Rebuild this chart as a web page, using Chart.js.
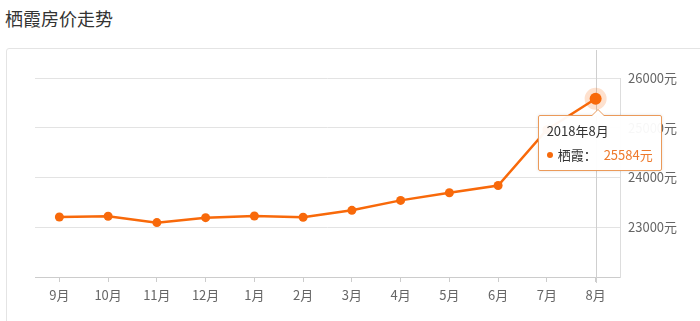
<!DOCTYPE html>
<html>
<head>
<meta charset="utf-8">
<script src="https://cdn.jsdelivr.net/npm/chart.js@4"></script>
<style>
  html, body { margin: 0; padding: 0; background: #fff; }
  body { width: 700px; height: 321px; position: relative; overflow: hidden;
         font-family: 'Noto Sans CJK SC', 'Noto Sans', sans-serif; }
  .page-title { position: absolute; left: 5px; top: 5px; font-size: 18px; color: #333; }
  .card { position: absolute; left: 6px; top: 48px; width: 740px; height: 320px;
          border: 1px solid #e4e4e4; border-radius: 3px; }
  #wrap { position: absolute; left: 0; top: 0; width: 700px; height: 321px; }
  #tip { position: absolute; display: none; background: rgba(255,255,255,0.95);
         border: 1px solid #eb9a5a; border-radius: 2px; padding: 5px 8px 5px 8px;
         font-size: 13px; color: #333; white-space: nowrap; box-shadow: 0 0 3px rgba(0,0,0,0.12); }
  #tip:before { content: ''; position: absolute; left: 52px; top: -7px;
                border: 7px solid transparent; border-top: 0; border-bottom-color: #eb9a5a; }
  #tip:after { content: ''; position: absolute; left: 53px; top: -6px;
               border: 6px solid transparent; border-top: 0; border-bottom-color: #fff; }
  #tip .t-title { line-height: 20px; }
  #tip .t-row { line-height: 20px; margin-top: 4px; }
  #tip .dot { display: inline-block; width: 6px; height: 6px; border-radius: 50%;
              background: #f66a0c; margin-right: 5px; vertical-align: 2px; }
  #tip .val { color: #ee7a2c; margin-left: 7px; }
</style>
</head>
<body>
<div class="page-title">栖霞房价走势</div>
<div class="card"></div>
<div id="wrap"><canvas id="chart"></canvas></div>
<div id="tip"></div>
<script>
// 栖霞房价走势 — monthly average price (元/㎡)

const MONTHS = ['9月', '10月', '11月', '12月', '1月', '2月', '3月', '4月', '5月', '6月', '7月', '8月'];
const TIP_TITLES = ['2017年9月', '2017年10月', '2017年11月', '2017年12月', '2018年1月', '2018年2月',
                    '2018年3月', '2018年4月', '2018年5月', '2018年6月', '2018年7月', '2018年8月'];
const PRICES = [23206, 23220, 23093, 23193, 23227, 23200, 23340, 23540, 23693, 23840, 24960, 25584];
const SERIES_NAME = '栖霞';
const Y_MIN = 22000;
const Y_MAX = 26000;
const Y_STEP = 1000;
const ACTIVE_INDEX = 11;

const ORANGE = '#f8690a';

// vertical pointer line at the hovered month
const crosshair = {
  id: 'crosshair',
  beforeDatasetsDraw(chart) {
    const act = chart.tooltip.getActiveElements();
    if (!act.length) return;
    const x = chart.scales.x.getPixelForValue(act[0].index);
    const { ctx, chartArea } = chart;
    ctx.save();
    ctx.strokeStyle = '#cfcfcf';
    ctx.lineWidth = 1;
    ctx.beginPath();
    ctx.moveTo(Math.round(x) + 0.5, chartArea.top - 28);
    ctx.lineTo(Math.round(x) + 0.5, chartArea.bottom + 6);
    ctx.stroke();
    ctx.restore();
  },
};

function externalTip(context) {
  const el = document.getElementById('tip');
  const tt = context.tooltip;
  if (tt.opacity === 0 || !tt.dataPoints || !tt.dataPoints.length) {
    el.style.display = 'none';
    return;
  }
  const dp = tt.dataPoints[0];
  el.innerHTML =
    `<div class="t-title">${TIP_TITLES[dp.dataIndex]}</div>` +
    `<div class="t-row"><span class="dot"></span>${SERIES_NAME}：<span class="val">${dp.parsed.y}元</span></div>`;
  el.style.display = 'block';
  el.style.left = (tt.caretX - 58) + 'px';
  el.style.top = (tt.caretY + 16) + 'px';
}

const chart = new Chart(document.getElementById('chart'), {
  type: 'line',
  data: {
    labels: MONTHS,
    datasets: [{
      label: SERIES_NAME,
      data: PRICES,
      borderColor: ORANGE,
      backgroundColor: ORANGE,
      borderWidth: 2.5,
      pointRadius: 4.5,
      pointBackgroundColor: ORANGE,
      pointBorderWidth: 0,
      pointHoverRadius: 6,
      pointHoverBackgroundColor: ORANGE,
      pointHoverBorderColor: 'rgba(248,105,10,0.2)',
      pointHoverBorderWidth: 10,
      tension: 0,
    }],
  },
  options: {
    responsive: true,
    maintainAspectRatio: false,
    animation: false,
    events: [],
    layout: { padding: { left: 35, top: 78, right: 0, bottom: 0 } },
    plugins: {
      legend: { display: false },
      tooltip: { enabled: false, external: externalTip },
    },
    scales: {
      x: {
        offset: true,
        grid: { display: true, drawOnChartArea: false, drawTicks: true, tickLength: 5, color: '#cccccc' },
        border: { display: true, color: '#cccccc' },
        ticks: { color: '#666', padding: 5, font: { size: 13, family: "'Noto Sans CJK SC', sans-serif" } },
        afterFit: s => { s.height = 44; },
      },
      y: {
        position: 'right',
        min: Y_MIN,
        max: Y_MAX,
        grid: { color: '#e3e3e3', drawTicks: false },
        border: { display: true, color: '#dddddd' },
        ticks: {
          stepSize: Y_STEP,
          color: '#666',
          padding: 8,
          font: { size: 13, family: "'Noto Sans CJK SC', sans-serif" },
          callback: v => (v === Y_MIN ? '' : v + '元'),
        },
        afterFit: s => { s.width = 80; },
      },
    },
  },
  plugins: [crosshair],
});

// show the tooltip for the latest month, as in the screenshot
const meta = chart.getDatasetMeta(0);
const pt = meta.data[ACTIVE_INDEX];
chart.setActiveElements([{ datasetIndex: 0, index: ACTIVE_INDEX }]);
chart.tooltip.setActiveElements([{ datasetIndex: 0, index: ACTIVE_INDEX }], { x: pt.x, y: pt.y });
chart.update();
</script>
</body>
</html>
